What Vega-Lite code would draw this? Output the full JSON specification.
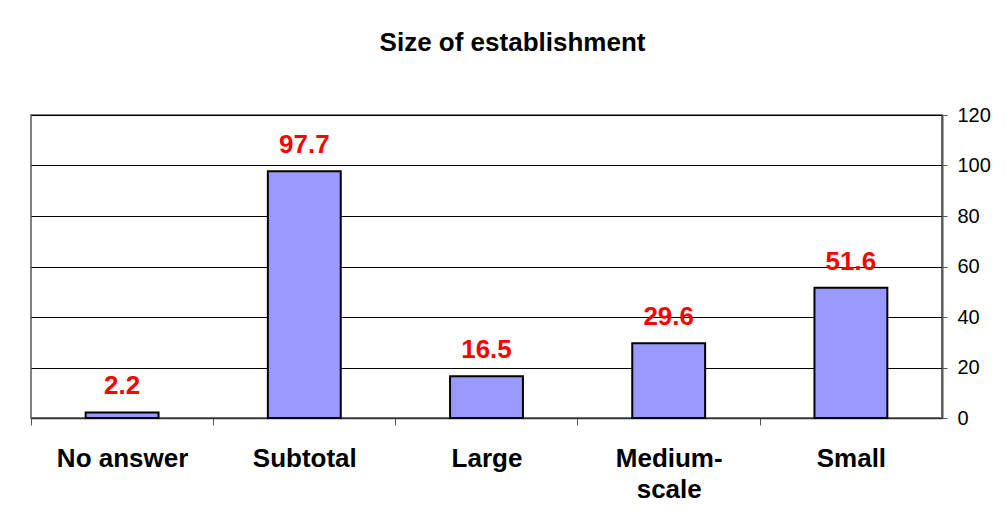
{
  "$schema": "https://vega.github.io/schema/vega-lite/v6.json",
  "autosize": "none",
  "width": 911,
  "height": 303,
  "padding": {"left": 31, "top": 115, "right": 64, "bottom": 110},
  "background": "white",
  "title": {
    "text": "Size of establishment",
    "font": "Liberation Sans",
    "fontSize": 26,
    "fontWeight": "bold",
    "color": "black",
    "anchor": "middle",
    "frame": "group",
    "dx": 26,
    "baseline": "alphabetic",
    "offset": 28
  },
  "data": {
    "values": [
      {"category": "No answer", "value": 2.2},
      {"category": "Subtotal", "value": 97.7},
      {"category": "Large", "value": 16.5},
      {"category": "Medium-scale", "value": 29.6},
      {"category": "Small", "value": 51.6}
    ]
  },
  "config": {
    "view": {"stroke": "#808080", "strokeWidth": 2},
    "font": "Liberation Sans"
  },
  "encoding": {
    "x": {
      "field": "category",
      "type": "nominal",
      "sort": null,
      "scale": {"paddingInner": 0.6, "paddingOuter": 0.3},
      "axis": {
        "title": null,
        "tickOffset": -91.2,
        "labelOffset": 91.2,
        "labelAngle": 0,
        "labelFont": "Liberation Sans",
        "labelFontSize": 26,
        "labelFontWeight": "bold",
        "labelColor": "black",
        "labelPadding": 20,
        "labelBaseline": "top",
        "labelLineHeight": 31,
        "labelExpr": "datum.label == 'Medium-scale' ? ['Medium-', 'scale'] : datum.label",
        "tickSize": 7,
        "tickColor": "#555555",
        "domainColor": "#333333",
        "domainWidth": 1.5,
        "grid": false
      }
    },
    "y": {
      "field": "value",
      "type": "quantitative",
      "scale": {"domain": [0, 120], "nice": false},
      "axis": {
        "orient": "right",
        "title": null,
        "values": [0, 20, 40, 60, 80, 100, 120],
        "labelFont": "Liberation Sans",
        "labelFontSize": 20,
        "labelColor": "black",
        "labelPadding": 10,
        "tickSize": 5,
        "tickColor": "#555555",
        "domainColor": "#555555",
        "domainWidth": 2,
        "grid": true,
        "gridColor": "black",
        "gridWidth": 1,
        "gridOpacity": 1
      }
    }
  },
  "layer": [
    {
      "mark": {"type": "bar", "fill": "#9999FF", "stroke": "black", "strokeWidth": 2}
    },
    {
      "mark": {
        "type": "text",
        "color": "#FF0000",
        "font": "Liberation Sans",
        "fontSize": 26,
        "fontWeight": "bold",
        "baseline": "alphabetic",
        "dy": -18
      },
      "encoding": {"text": {"field": "value", "type": "quantitative", "format": ".1f"}}
    }
  ]
}
